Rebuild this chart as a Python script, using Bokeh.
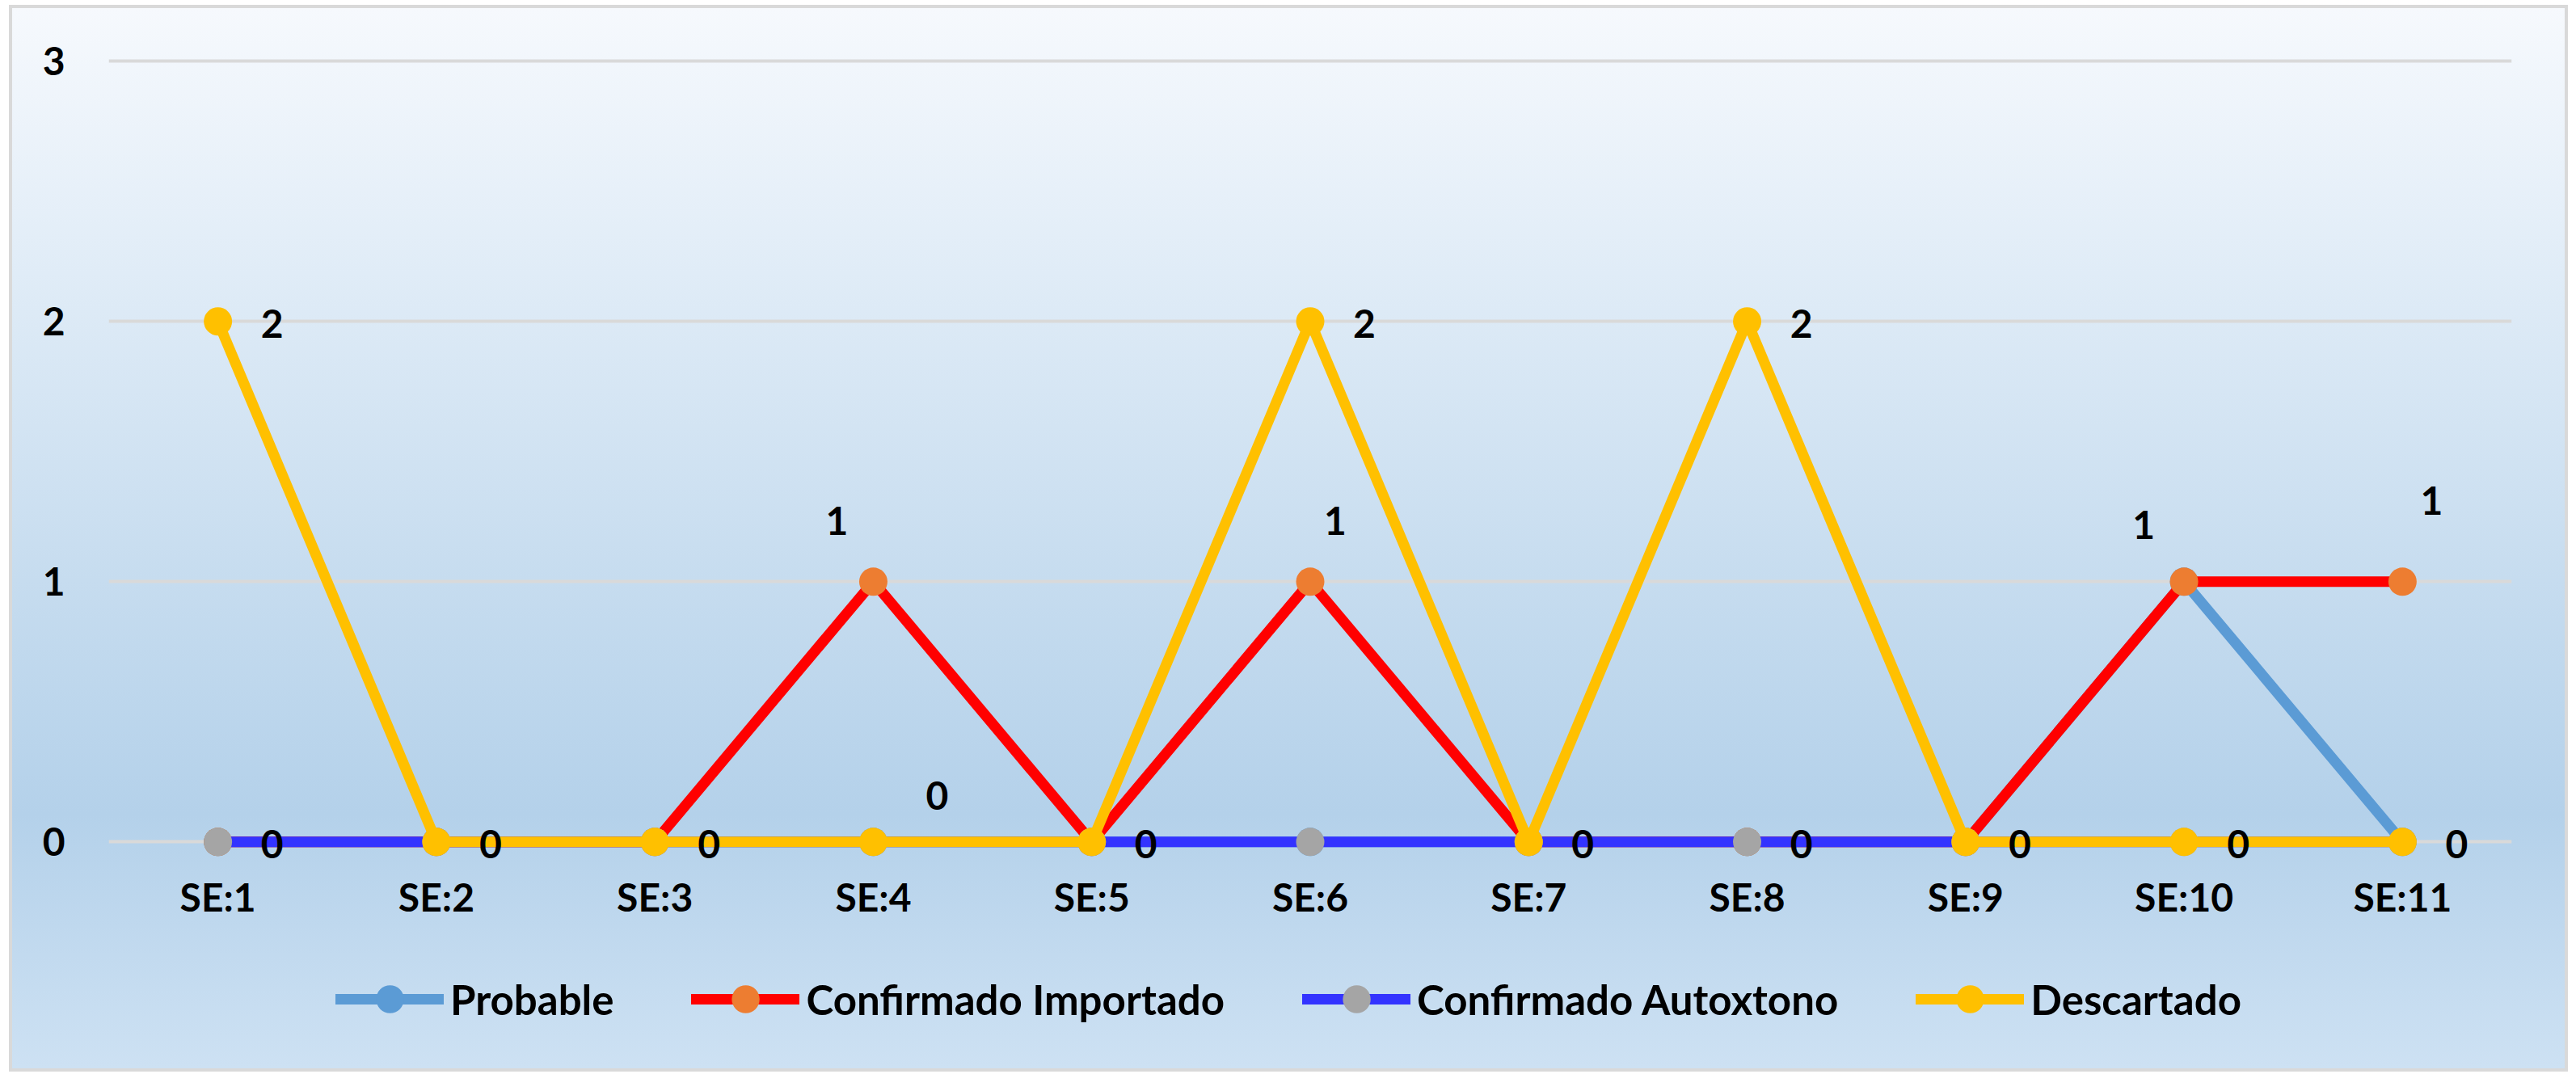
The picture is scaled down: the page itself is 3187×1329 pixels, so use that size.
from bokeh.plotting import figure
from bokeh.layouts import column
from bokeh.models import Range1d, FactorRange, FixedTicker, Legend, LegendItem, ColumnDataSource
from bokeh.core.properties import value
from bokeh.embed import file_html
from bokeh.resources import INLINE

# ---------------- data ----------------
categories = ["SE:1", "SE:2", "SE:3", "SE:4", "SE:5", "SE:6", "SE:7", "SE:8", "SE:9", "SE:10", "SE:11"]
probable = [0, 0, 0, 0, 0, 0, 0, 0, 0, 1, 0]
confirmado_importado = [0, 0, 0, 1, 0, 1, 0, 0, 0, 1, 1]
confirmado_autoxtono = [0, 0, 0, 0, 0, 0, 0, 0, 0, 0, 0]
descartado = [2, 0, 0, 0, 0, 2, 0, 2, 0, 0, 0]
series_names = ["Probable", "Confirmado Importado", "Confirmado Autoxtono", "Descartado"]
y_ticks = [0, 1, 2, 3]

# which points carry a visible data label
label_series = ["Descartado", "Confirmado Autoxtono", "Descartado", "Descartado",
                "Confirmado Importado", "Descartado", "Descartado", "Descartado",
                "Confirmado Importado", "Descartado", "Descartado", "Confirmado Autoxtono",
                "Descartado", "Confirmado Importado", "Descartado", "Confirmado Importado",
                "Descartado"]
label_cats = ["SE:1", "SE:1", "SE:2", "SE:3", "SE:4", "SE:4", "SE:5", "SE:6", "SE:6",
              "SE:7", "SE:8", "SE:8", "SE:9", "SE:10", "SE:10", "SE:11", "SE:11"]

# ---------------- styles ----------------
line_colors = ["#5B9BD5", "#FF0000", "#3333FF", "#FFC000"]
marker_colors = ["#5B9BD5", "#ED7D31", "#A5A5A5", "#FFC000"]
label_dx = [67, 67, 67, 67, -45, 79, 67, 67, 31, 67, 67, 67, 67, -50, 67, 36, 67]
label_dy = [3, 3, 3, 3, -75, -57, 3, 3, -75, 3, 3, 3, 3, -70, 3, -100, 3]

FONT = "Lato"
FS = "48px"
LW = 13

series_data = dict(zip(series_names, [probable, confirmado_importado, confirmado_autoxtono, descartado]))

def transparent(fig):
    fig.background_fill_alpha = 0
    fig.border_fill_alpha = 0
    fig.outline_line_color = None

x_range = FactorRange(factors=categories)

p = figure(
    frame_width=2973, frame_height=1037,
    x_range=x_range,
    y_range=Range1d(-0.12, 3.1),
    output_backend="svg", toolbar_location=None,
    min_border_left=119, min_border_right=66, min_border_top=33, min_border_bottom=0,
)
transparent(p)

p.yaxis.ticker = FixedTicker(ticks=y_ticks)
for ax in (p.xaxis[0], p.yaxis[0]):
    ax.axis_line_color = None
    ax.major_tick_line_color = None
    ax.minor_tick_line_color = None
    ax.major_tick_out = 0
    ax.major_tick_in = 0
    ax.major_label_text_font = FONT
    ax.major_label_text_font_style = "bold"
    ax.major_label_text_font_size = FS
    ax.major_label_text_color = "#000000"
p.yaxis.major_label_standoff = 54
p.xaxis.major_label_standoff = 0

p.xgrid.grid_line_color = None
p.ygrid.grid_line_color = "#D9D9D9"
p.ygrid.grid_line_width = 4
p.ygrid.ticker = FixedTicker(ticks=y_ticks)

# legend strip (its own canvas below the chart; its view window lies outside the data)
p2 = figure(frame_width=3158, frame_height=172, x_range=x_range, y_range=Range1d(10, 11),
            output_backend="svg", toolbar_location=None,
            min_border_left=0, min_border_right=0, min_border_top=10, min_border_bottom=0)
transparent(p2)
p2.axis.visible = False
p2.grid.visible = False

items = []
for name, lc, mc in zip(series_names, line_colors, marker_colors):
    src = ColumnDataSource(dict(x=categories, y=series_data[name]))
    p.line("x", "y", source=src, line_color=lc, line_width=LW,
           line_join="round", line_cap="round")
    p.scatter("x", "y", source=src, size=35, fill_color=mc, line_color=None)
    lr = p2.line("x", "y", source=src, line_color=lc, line_width=LW, line_cap="round")
    sr = p2.scatter("x", "y", source=src, size=35, fill_color=mc, line_color=None)
    items.append(LegendItem(label=name, renderers=[lr, sr]))

lab_vals = [series_data[s][categories.index(c)] for s, c in zip(label_series, label_cats)]
lab_src = ColumnDataSource(dict(x=label_cats, y=lab_vals, t=[str(v) for v in lab_vals],
                                dx=label_dx, dy=label_dy))
p.text("x", "y", text="t", source=lab_src, x_offset="dx", y_offset="dy",
       text_font=value(FONT), text_font_style="bold", text_font_size=FS,
       text_color="#000000", text_align="center", text_baseline="middle")

legend = Legend(items=items, orientation="horizontal", location="center",
                glyph_width=134, glyph_height=86, label_standoff=8, spacing=96,
                label_text_font=FONT, label_text_font_style="bold", label_text_font_size="51px",
                label_text_color="#000000", background_fill_alpha=0, border_line_alpha=0,
                padding=0, margin=0)
p2.add_layout(legend, "center")

layout = column(p, p2, spacing=0, margin=(6, 0, 0, 11), styles={
    "background": "linear-gradient(to bottom, #F6F9FD 0%, #E0ECF7 25%, #C6DCEF 54%, #B4D1EA 76%, #CDE1F3 100%)",
    "border": "4px solid #D9D9D9",
})

open("out.html", "w").write(file_html(layout, INLINE))
